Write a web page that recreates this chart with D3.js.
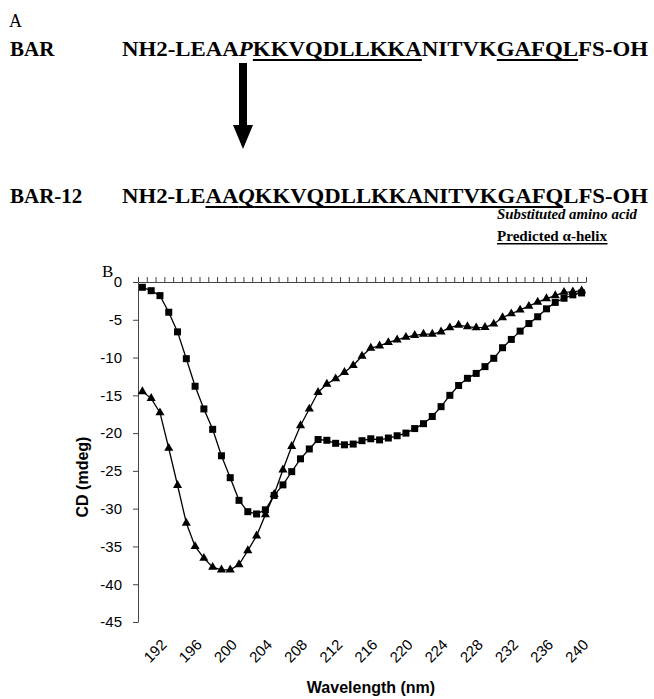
<!DOCTYPE html>
<html>
<head>
<meta charset="utf-8">
<script src="https://cdn.jsdelivr.net/npm/d3@7"></script>
<style>
  html, body { margin: 0; padding: 0; background: #fff; }
  svg { display: block; }
  .serif { font-family: "Liberation Serif", "Times New Roman", serif; }
  .sans { font-family: "Liberation Sans", Arial, sans-serif; }
</style>
</head>
<body>
<svg id="fig" width="654" height="699"></svg>
<script>
const WAVELENGTHS = [190, 191, 192, 193, 194, 195, 196, 197, 198, 199, 200, 201, 202, 203, 204, 205, 206, 207, 208, 209,
  210, 211, 212, 213, 214, 215, 216, 217, 218, 219, 220, 221, 222, 223, 224, 225, 226, 227, 228, 229,
  230, 231, 232, 233, 234, 235, 236, 237, 238, 239, 240];

const SQUARE_CD = [-0.7, -1.15, -1.8, -4.0, -6.6, -10.15, -13.8, -16.8, -19.5, -23.0, -25.9, -28.9, -30.4, -30.7, -30.15,
  -28.25, -26.85, -25.1, -23.4, -22.1, -20.85, -20.95, -21.35, -21.55, -21.45, -21.0, -20.75, -20.9, -20.65, -20.35,
  -20.0, -19.4, -18.75, -17.8, -16.5, -15.0, -13.7, -12.75, -12.1, -11.2, -10.1, -8.7, -7.6, -6.5, -5.5, -4.6,
  -3.55, -2.7, -2.15, -1.7, -1.45];

const TRIANGLE_CD = [-14.5, -15.4, -17.3, -22.0, -26.9, -31.9, -35.0, -36.55, -37.75, -38.1, -38.1, -37.4, -35.55, -33.6,
  -30.8, -28.1, -24.85, -21.75, -19.0, -16.8, -14.6, -13.5, -12.8, -11.95, -11.05, -9.8, -8.75, -8.45, -8.0, -7.65,
  -7.3, -7.05, -6.9, -6.9, -6.6, -6.05, -5.7, -5.9, -6.05, -6.0, -5.55, -4.7, -4.2, -3.7, -3.2, -2.65, -2.2, -1.8,
  -1.35, -1.3, -1.15];

const X_TICK_LABELS = [192, 196, 200, 204, 208, 212, 216, 220, 224, 228, 232, 236, 240];
const Y_TICKS = [0, -5, -10, -15, -20, -25, -30, -35, -40, -45];

// peptide sequences, split into runs: [text, italic, underlined]
const SEQ_BAR = [
  ["NH2-LEAA", false, false],
  ["P", true, false],
  ["KKVQDLLKKA", false, true],
  ["NITVK", false, false],
  ["GAFQL", false, true],
  ["FS-OH", false, false],
];
const SEQ_BAR12 = [
  ["NH2-LE", false, false],
  ["AA", false, true],
  ["Q", true, true],
  ["KKVQDLLKKANITVKGAFQ", false, true],
  ["LFS-OH", false, false],
];

const svg = d3.select("#fig");
svg.append("rect").attr("width", 654).attr("height", 699).attr("fill", "#fff");

// ---- panel A ----
const panelA = svg.append("g").attr("class", "serif");
panelA.append("text").attr("x", 9).attr("y", 27).attr("font-size", 18).text("A");

function drawSequence(label, runs, baseline) {
  panelA.append("text")
    .attr("x", 10).attr("y", baseline)
    .attr("font-size", 21).attr("font-weight", "bold")
    .text(label);

  const t = panelA.append("text")
    .attr("x", 122).attr("y", baseline)
    .attr("font-size", 21).attr("font-weight", "bold")
    .attr("textLength", 526).attr("lengthAdjust", "spacingAndGlyphs");
  runs.forEach(([s, italic]) => {
    t.append("tspan").attr("font-style", italic ? "italic" : "normal").text(s);
  });

  // underline the helix runs, measured from the laid-out glyphs
  const node = t.node();
  let idx = 0;
  runs.forEach(([s, , under]) => {
    if (under) {
      const x0 = node.getStartPositionOfChar(idx).x;
      const x1 = node.getEndPositionOfChar(idx + s.length - 1).x;
      panelA.append("rect")
        .attr("x", x0).attr("y", baseline + 3)
        .attr("width", x1 - x0).attr("height", 2)
        .attr("fill", "#000");
    }
    idx += s.length;
  });
}

drawSequence("BAR", SEQ_BAR, 56);
drawSequence("BAR-12", SEQ_BAR12, 203);

// substitution arrow
const arrowX = 243;
panelA.append("path")
  .attr("d", `M${arrowX - 4},63 L${arrowX + 4},63 L${arrowX + 4},125 L${arrowX + 10},125 L${arrowX},149 L${arrowX - 10},125 L${arrowX - 4},125 Z`)
  .attr("fill", "#000");

panelA.append("text")
  .attr("x", 497).attr("y", 219)
  .attr("font-size", 14).attr("font-weight", "bold").attr("font-style", "italic")
  .attr("textLength", 140).attr("lengthAdjust", "spacingAndGlyphs")
  .text("Substituted amino acid");
const helix = panelA.append("text")
  .attr("x", 497).attr("y", 241)
  .attr("font-size", 15).attr("font-weight", "bold")
  .attr("textLength", 110).attr("lengthAdjust", "spacingAndGlyphs")
  .text("Predicted \u03b1-helix");
const hb = helix.node().getBBox();
panelA.append("rect").attr("x", hb.x).attr("y", 243).attr("width", hb.width).attr("height", 1.5).attr("fill", "#000");

// ---- panel B ----
const plot = { left: 138, right: 586, top: 282, bottom: 622 };

const x = d3.scaleBand().domain(WAVELENGTHS).range([plot.left, plot.right]);
const xc = (d) => x(d) + x.bandwidth() / 2;
const y = d3.scaleLinear().domain([0, -45]).range([plot.top, plot.bottom]);
const xBound = d3.scaleLinear().domain([0, WAVELENGTHS.length]).range([plot.left, plot.right]);

svg.append("text").attr("class", "serif")
  .attr("x", 102).attr("y", 277).attr("font-size", 17).text("B");

const gB = svg.append("g").attr("class", "sans");

// y axis
gB.append("g")
  .attr("transform", `translate(${plot.left},0)`)
  .call(d3.axisLeft(y).tickValues(Y_TICKS).tickSize(5).tickSizeOuter(0).tickPadding(11).tickFormat((d) => String(d)))
  .call((g) => g.selectAll("text").attr("font-size", 15).attr("font-family", "Liberation Sans, Arial, sans-serif").attr("fill", "#000"))
  .call((g) => g.selectAll("line,path").attr("stroke", "#444"));

// category axis along y = 0, ticks between categories
gB.append("g")
  .attr("transform", `translate(0,${y(0)})`)
  .call(d3.axisTop(xBound).tickValues(d3.range(WAVELENGTHS.length + 1)).tickSize(5).tickSizeOuter(0).tickFormat(""))
  .call((g) => g.selectAll("line,path").attr("stroke", "#444"));

// rotated wavelength labels at the bottom
gB.selectAll("text.xlab")
  .data(X_TICK_LABELS)
  .join("text")
  .attr("class", "xlab")
  .attr("transform", (d) => `translate(${xc(d) + 4},${plot.bottom + 20}) rotate(-45)`)
  .attr("text-anchor", "end")
  .attr("dy", "0.35em")
  .attr("font-size", 15)
  .text((d) => d);

gB.append("text")
  .attr("x", 371).attr("y", 693)
  .attr("text-anchor", "middle")
  .attr("font-size", 16).attr("font-weight", "bold")
  .text("Wavelength (nm)");

gB.append("text")
  .attr("transform", `translate(88,477) rotate(-90)`)
  .attr("text-anchor", "middle")
  .attr("font-size", 16).attr("font-weight", "bold")
  .text("CD (mdeg)");

const line = d3.line().x((d) => xc(d[0])).y((d) => y(d[1]));

function drawSeries(values, symbolType, size) {
  const pts = WAVELENGTHS.map((w, i) => [w, values[i]]);
  gB.append("path")
    .datum(pts)
    .attr("fill", "none")
    .attr("stroke", "#000")
    .attr("stroke-width", 1.3)
    .attr("d", line);
  gB.append("g")
    .selectAll("path")
    .data(pts)
    .join("path")
    .attr("transform", (d) => `translate(${xc(d[0])},${y(d[1])})`)
    .attr("d", d3.symbol().type(symbolType).size(size))
    .attr("fill", "#000");
}

drawSeries(SQUARE_CD, d3.symbolSquare, 49);
drawSeries(TRIANGLE_CD, d3.symbolTriangle, 36);
</script>
</body>
</html>
